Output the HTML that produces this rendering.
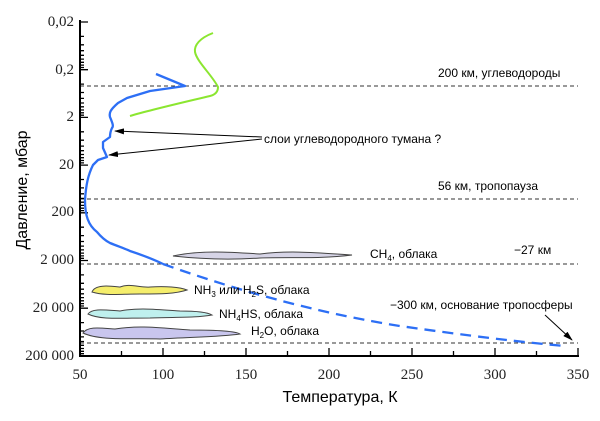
<!DOCTYPE html><html><head><meta charset="utf-8"><style>
body{margin:0;background:#fff;width:600px;height:421px;position:relative;overflow:hidden}
svg{display:block;position:absolute;left:0;top:0}
.ax{position:absolute;background:#000}
.yl{position:absolute;right:526px;font-family:"Liberation Serif",serif;font-size:15px;color:#222;line-height:16px;white-space:nowrap}
.xl{position:absolute;top:367px;width:60px;margin-left:-30px;text-align:center;font-family:"Liberation Serif",serif;font-size:15px;color:#222;line-height:16px}
</style></head><body>
<svg width="600" height="421" viewBox="0 0 600 421" xmlns="http://www.w3.org/2000/svg">
<defs><marker id="ah" markerWidth="10" markerHeight="6" refX="9" refY="3" orient="auto"><path d="M0,0 L10,3 L0,6 z" fill="#000"/></marker></defs>
<g stroke="#333" stroke-dasharray="4,3" stroke-width="1">
<line x1="80" y1="86" x2="578" y2="86"/><line x1="80" y1="199" x2="578" y2="199"/><line x1="80" y1="264" x2="578" y2="264"/><line x1="80" y1="343" x2="578" y2="343"/></g>
<path stroke="#000" stroke-width="1.3" fill="none" d="
M80,36.4h4 M80,44.8h4 M80,50.7h4 M80,55.3h4 M80,59.1h4 M80,62.3h4 M80,65.1h4 M80,67.5h4
M80,84.1h4 M80,92.5h4 M80,98.4h4 M80,103h4 M80,106.8h4 M80,110h4 M80,112.8h4 M80,115.2h4
M80,131.8h4 M80,140.2h4 M80,146.1h4 M80,150.7h4 M80,154.5h4 M80,157.7h4 M80,160.5h4 M80,162.9h4
M80,179.5h4 M80,187.9h4 M80,193.8h4 M80,198.4h4 M80,202.2h4 M80,205.4h4 M80,208.2h4 M80,210.6h4
M80,227.2h4 M80,235.6h4 M80,241.5h4 M80,246.1h4 M80,249.9h4 M80,253.1h4 M80,255.9h4 M80,258.3h4
M80,274.9h4 M80,283.3h4 M80,289.2h4 M80,293.8h4 M80,297.6h4 M80,300.8h4 M80,303.6h4 M80,306h4
M80,322.6h4 M80,331h4 M80,336.9h4 M80,341.5h4 M80,345.3h4 M80,348.5h4 M80,351.3h4 M80,353.7h4
M80,22h8 M80,69.7h8 M80,117.4h8 M80,165.1h8 M80,212.8h8 M80,260.5h8 M80,308.2h8
M163,356v-8 M246,356v-8 M329,356v-8 M412,356v-8 M495,356v-8 M578,356v-8
M121.5,356v-5 M204.5,356v-5 M287.5,356v-5 M370.5,356v-5 M453.5,356v-5 M536.5,356v-5"/>
<g stroke="#444" stroke-width="1">
<path d="M173,256 C200,250 230,252 260,254 C290,250 320,253 352,255 C320,259 290,257 260,258 C230,260 200,259 173,256 Z" fill="#d6d4e6"/>
<path d="M92,292 C95,284 110,286 120,287 C130,283 140,288 150,287 C165,286 180,287 187,290 C175,294 160,294 140,294 C120,294 105,296 92,292 Z" fill="#f5ee6c"/>
<path d="M88,314 C92,308 105,310 120,311 C140,307 160,310 180,311 C195,311 207,312 212,315 C195,318 175,317 150,318 C120,318 100,320 88,314 Z" fill="#bff0ee"/>
<path d="M83,333 C88,326 100,328 115,329 C140,325 160,328 190,330 C215,330 235,331 240,334 C220,337 190,337 160,339 C130,338 100,341 83,333 Z" fill="#c9c6ee"/></g>
<path d="M156,74 L185,86 L150,91 L127,98 L118,103 C110,110 109,113 110,117 C112,122 114,126 112,128 C110,132 110,135 110,137 L103,142 L103,148 L107,157 L98,160 L93,165 C88,175 86,185 85,200 C85,215 88,225 97,232 C102,238 106,241 110,243 C120,247 126,249 130,251 C145,256 155,260 163,264" fill="none" stroke="#2d6ff5" stroke-width="2.3" stroke-linejoin="round"/>
<path d="M163,264 C250,295 330,315 400,326 C470,336 520,342 565,346" fill="none" stroke="#2d6ff5" stroke-width="2.3" stroke-dasharray="11,7"/>
<path d="M213,33 C200,38 194,45 195,52 C197,62 212,75 218,87 C218,93 214,95 210,96 C185,102 150,110 130,116" fill="none" stroke="#8be630" stroke-width="2"/>
<g stroke="#000" stroke-width="1" marker-end="url(#ah)"><line x1="262" y1="137" x2="115" y2="131"/><line x1="262" y1="139" x2="109" y2="155"/><line x1="545" y1="315" x2="572" y2="340"/></g>
<text x="340" y="402" font-family="Liberation Sans, sans-serif" font-size="16" text-anchor="middle">Температура, К</text>
<text transform="translate(27,190) rotate(-90)" font-family="Liberation Sans, sans-serif" font-size="16" text-anchor="middle">Давление, мбар</text>
<g font-family="Liberation Sans, sans-serif" font-size="12" fill="#000">
<text x="264" y="143">слои углеводородного тумана ?</text>
<text x="438" y="77">200 км, углеводороды</text>
<text x="438" y="190">56 км, тропопауза</text>
<text x="370" y="258">CH<tspan font-size="8" dy="3">4</tspan><tspan dy="-3">, облака</tspan></text>
<text x="514" y="254">−27 км</text>
<text x="390" y="309">−300 км, основание тропосферы</text>
<text x="194" y="294">NH<tspan font-size="8" dy="3">3</tspan><tspan dy="-3"> или H</tspan><tspan font-size="8" dy="3">2</tspan><tspan dy="-3">S, облака</tspan></text>
<text x="219" y="318">NH<tspan font-size="8" dy="3">4</tspan><tspan dy="-3">HS, облака</tspan></text>
<text x="251" y="335">H<tspan font-size="8" dy="3">2</tspan><tspan dy="-3">O, облака</tspan></text></g>
</svg>
<div class="ax" style="left:79px;top:20px;width:2px;height:337px"></div>
<div class="ax" style="left:79px;top:355px;width:500px;height:2px"></div>
<div class="yl" style="top:14px">0,02</div><div class="yl" style="top:62px">0,2</div><div class="yl" style="top:109px">2</div><div class="yl" style="top:157px">20</div><div class="yl" style="top:204px">200</div><div class="yl" style="top:252px">2 000</div><div class="yl" style="top:300px">20 000</div><div class="yl" style="top:348px">200 000</div>
<div class="xl" style="left:80px">50</div><div class="xl" style="left:163px">100</div><div class="xl" style="left:246px">150</div><div class="xl" style="left:329px">200</div><div class="xl" style="left:412px">250</div><div class="xl" style="left:495px">300</div><div class="xl" style="left:578px">350</div>
</body></html>
